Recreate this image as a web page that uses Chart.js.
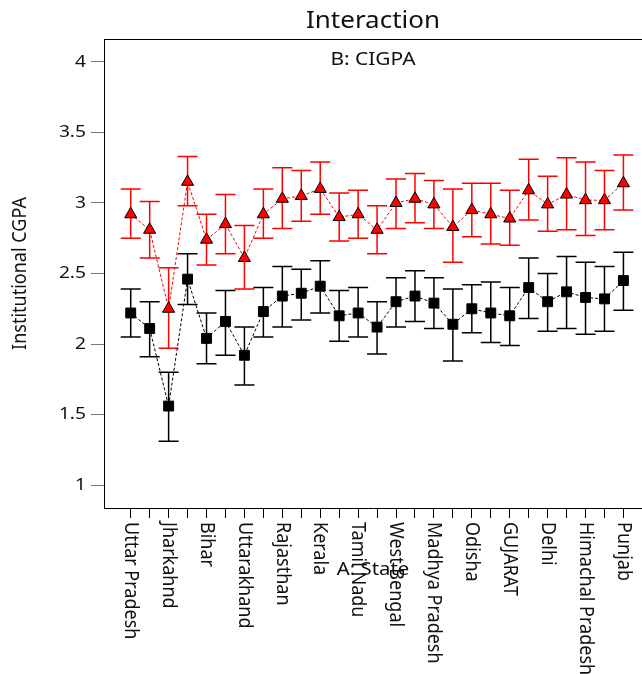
<!DOCTYPE html>
<html>
<head>
<meta charset="utf-8">
<script src="https://cdn.jsdelivr.net/npm/chart.js@4.4.0/dist/chart.umd.min.js"></script>
<style>
  html, body { margin: 0; padding: 0; background: #fff; }
  #wrap { width: 642px; height: 674px; }
</style>
</head>
<body>
<div id="wrap"><canvas id="interactionChart" width="642" height="674"></canvas></div>
<script>
// states on the x axis (only every other one is labelled)
var states = ['Uttar Pradesh', '', 'Jharkahnd', '', 'Bihar', '', 'Uttarakhand', '', 'Rajasthan', '',
  'Kerala', '', 'Tamil Nadu', '', 'West Bengal', '', 'Madhya Pradesh', '', 'Odisha', '',
  'GUJARAT', '', 'Delhi', '', 'Himachal Pradesh', '', 'Punjab'];

// B: CIGPA, upper level (red triangles)
var highMean  = [2.92, 2.81, 2.25, 3.15, 2.74, 2.85, 2.61, 2.92, 3.03, 3.05, 3.10, 2.90, 2.92, 2.81,
  3.00, 3.03, 2.99, 2.83, 2.95, 2.92, 2.89, 3.09, 2.99, 3.06, 3.02, 3.02, 3.14];
var highUpper = [3.10, 3.01, 2.54, 3.33, 2.92, 3.06, 2.84, 3.10, 3.25, 3.23, 3.29, 3.07, 3.09, 2.98,
  3.17, 3.21, 3.16, 3.10, 3.14, 3.14, 3.09, 3.31, 3.19, 3.32, 3.29, 3.23, 3.34];
var highLower = [2.75, 2.61, 1.97, 2.98, 2.56, 2.64, 2.39, 2.75, 2.82, 2.87, 2.92, 2.73, 2.75, 2.64,
  2.82, 2.86, 2.82, 2.58, 2.76, 2.71, 2.70, 2.88, 2.80, 2.81, 2.77, 2.81, 2.95];

// B: CIGPA, lower level (black squares)
var lowMean  = [2.22, 2.11, 1.56, 2.46, 2.04, 2.16, 1.92, 2.23, 2.34, 2.36, 2.41, 2.20, 2.22, 2.12,
  2.30, 2.34, 2.29, 2.14, 2.25, 2.22, 2.20, 2.40, 2.30, 2.37, 2.33, 2.32, 2.45];
var lowUpper = [2.39, 2.30, 1.80, 2.64, 2.22, 2.38, 2.12, 2.40, 2.55, 2.53, 2.59, 2.38, 2.40, 2.30,
  2.47, 2.52, 2.47, 2.39, 2.42, 2.44, 2.40, 2.61, 2.50, 2.62, 2.58, 2.55, 2.65];
var lowLower = [2.05, 1.91, 1.31, 2.28, 1.86, 1.92, 1.71, 2.05, 2.12, 2.17, 2.22, 2.02, 2.05, 1.93,
  2.12, 2.16, 2.11, 1.88, 2.08, 2.01, 1.99, 2.18, 2.09, 2.11, 2.07, 2.09, 2.24];

var yTicks = [1, 1.5, 2, 2.5, 3, 3.5, 4];

var FONT = '"Noto Sans", "Open Sans", sans-serif';
var STRETCH = 1.13; // text is drawn a little wide

function toPoints(arr) {
  return arr.map(function (v, i) { return { x: i, y: v }; });
}

// text helper: widened glyphs, optional rotation
function drawText(ctx, text, x, y, size, align, angle) {
  ctx.save();
  ctx.translate(x, y);
  ctx.scale(STRETCH, 1);
  if (angle) ctx.rotate(angle);
  ctx.font = size + 'px ' + FONT;
  ctx.textAlign = align;
  ctx.textBaseline = 'middle';
  ctx.fillText(text, 0, 0);
  ctx.restore();
}

// whiskers drawn under the markers
var errorBars = {
  id: 'errorBars',
  beforeDatasetsDraw: function (chart) {
    var ctx = chart.ctx, xs = chart.scales.x, ys = chart.scales.y;
    chart.data.datasets.forEach(function (ds) {
      ctx.save();
      ctx.strokeStyle = ds.whiskerColor;
      ctx.lineWidth = 1.5;
      ds.lower.forEach(function (lo, i) {
        var px = xs.getPixelForValue(i);
        var top = ys.getPixelForValue(ds.upper[i]);
        var bot = ys.getPixelForValue(lo);
        ctx.beginPath();
        ctx.moveTo(px, top); ctx.lineTo(px, bot);
        ctx.moveTo(px - 10, top); ctx.lineTo(px + 10, top);
        ctx.moveTo(px - 10, bot); ctx.lineTo(px + 10, bot);
        ctx.stroke();
      });
      ctx.restore();
    });
  }
};

// titles, frame top, y tick labels and the rotated state names
var annotations = {
  id: 'annotations',
  afterDraw: function (chart) {
    var ctx = chart.ctx, area = chart.chartArea, xs = chart.scales.x, ys = chart.scales.y;
    var cx = (area.left + area.right) / 2;
    ctx.save();
    ctx.strokeStyle = '#000';
    ctx.lineWidth = 1;
    ctx.beginPath();
    ctx.moveTo(area.left, area.top + 0.5);
    ctx.lineTo(area.right, area.top + 0.5);
    ctx.stroke();

    ctx.fillStyle = '#111';
    drawText(ctx, 'Interaction', cx, 21, 23, 'center');
    drawText(ctx, 'B: CIGPA', cx, 60, 18.5, 'center');

    yTicks.forEach(function (v) {
      drawText(ctx, String(v), area.left - 18, ys.getPixelForValue(v), 17, 'right');
    });
    drawText(ctx, 'Institutional CGPA', 20, (area.top + area.bottom) / 2, 18, 'center', -Math.PI / 2);

    states.forEach(function (name, i) {
      if (!name) return;
      drawText(ctx, name, xs.getPixelForValue(i), area.bottom + 14, 18, 'left', Math.PI / 2);
    });

    drawText(ctx, 'A: State', cx, 570, 18, 'center');
    ctx.restore();
  }
};

new Chart(document.getElementById('interactionChart').getContext('2d'), {
  type: 'line',
  data: {
    datasets: [{
      label: 'CIGPA high',
      data: toPoints(highMean),
      upper: highUpper,
      lower: highLower,
      whiskerColor: '#ff0000',
      borderColor: '#ff0000',
      borderWidth: 1,
      borderDash: [3, 2],
      pointStyle: 'triangle',
      pointRadius: 7,
      pointBackgroundColor: '#ff0000',
      pointBorderColor: '#000',
      pointBorderWidth: 1
    }, {
      label: 'CIGPA low',
      data: toPoints(lowMean),
      upper: lowUpper,
      lower: lowLower,
      whiskerColor: '#000',
      borderColor: '#000',
      borderWidth: 1,
      borderDash: [3, 2],
      pointStyle: 'rect',
      pointRadius: 7,
      pointBackgroundColor: '#000',
      pointBorderColor: '#000',
      pointBorderWidth: 1
    }]
  },
  options: {
    responsive: false,
    animation: false,
    devicePixelRatio: 1,
    layout: { autoPadding: false, padding: { top: 39, bottom: 156, left: 0, right: 0 } },
    plugins: { legend: { display: false }, tooltip: { enabled: false }, title: { display: false } },
    scales: {
      x: {
        type: 'linear',
        min: -1.41,
        max: 26.98,
        afterBuildTicks: function (scale) {
          scale.ticks = states.map(function (s, i) { return { value: i }; });
        },
        afterFit: function (scale) { scale.height = 10; },
        ticks: { display: false },
        grid: { drawOnChartArea: false, tickLength: 10, color: '#000' },
        border: { color: '#000', width: 1 }
      },
      y: {
        min: 0.837,
        max: 4.163,
        afterBuildTicks: function (scale) {
          scale.ticks = yTicks.map(function (v) { return { value: v }; });
        },
        afterFit: function (scale) { scale.width = 104; },
        ticks: { display: false },
        grid: { drawOnChartArea: false, tickLength: 13, color: '#777' },
        border: { color: '#000', width: 1 }
      }
    }
  },
  plugins: [errorBars, annotations]
});
</script>
</body>
</html>
